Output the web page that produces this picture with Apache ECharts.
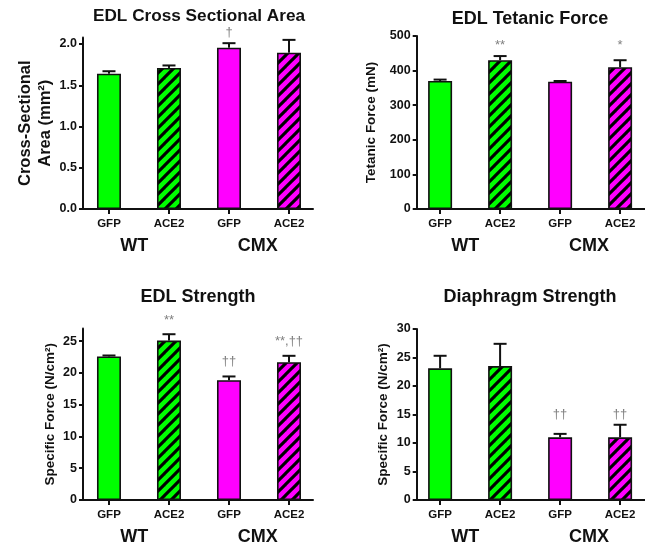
<!DOCTYPE html>
<html>
<head>
<meta charset="utf-8">
<script src="https://cdn.jsdelivr.net/npm/echarts@6/dist/echarts.min.js"></script>
<style>html,body{margin:0;padding:0;background:#fff}#c{width:645px;height:546px}</style>
</head>
<body>
<div id="c"></div>
<script>
// ---- data ----
const categories = ['GFP', 'ACE2', 'GFP', 'ACE2'];
const groups = ['WT', 'CMX'];
const titles = ['EDL Cross Sectional Area', 'EDL Tetanic Force', 'EDL Strength', 'Diaphragm Strength'];
const yNames = ['Cross-Sectional\nArea (mm\u00b2)', 'Tetanic Force (mN)', 'Specific Force (N/cm\u00b2)', 'Specific Force (N/cm\u00b2)'];

const csaMean = [1.64, 1.71, 1.955, 1.895];
const csaErr = [0.03, 0.03, 0.055, 0.155];
const csaAnn = ['', '', '\u2020', ''];
const csaAnnY = [null, null, 2.14, null];
const csaTicks = [0, 0.5, 1.0, 1.5, 2.0];

const tetMean = [370, 430, 368, 410];
const tetErr = [4, 12, 2, 20];
const tetAnn = ['', '**', '', '*'];
const tetAnnY = [null, 474, null, 474];
const tetTicks = [0, 100, 200, 300, 400, 500];

const edlMean = [22.6, 25.1, 18.85, 21.7];
const edlErr = [0.15, 1.0, 0.6, 1.0];
const edlAnn = ['', '**', '\u2020\u2020', '**,\u2020\u2020'];
const edlAnnY = [null, 28.2, 21.8, 24.9];
const edlTicks = [0, 5, 10, 15, 20, 25];

const diaMean = [23.1, 23.5, 11.0, 11.0];
const diaErr = [2.2, 3.9, 0.6, 2.2];
const diaAnn = ['', '', '\u2020\u2020', '\u2020\u2020'];
const diaAnnY = [null, null, 15.1, 15.1];
const diaTicks = [0, 5, 10, 15, 20, 25, 30];

// ---- styles ----
const GREEN = '#00ff00', MAGENTA = '#ff00ff', INK = '#111111';
const FONT = '"Liberation Sans", Arial, sans-serif';

function hatch(base) {
  const s = 11;
  const cv = document.createElement('canvas');
  cv.width = s; cv.height = s;
  const ctx = cv.getContext('2d');
  ctx.fillStyle = base; ctx.fillRect(0, 0, s, s);
  ctx.strokeStyle = '#000'; ctx.lineWidth = 3.1;
  [-s, 0, s].forEach(function (k) {
    ctx.beginPath(); ctx.moveTo(k - 2, s + 2); ctx.lineTo(k + s + 2, -2); ctx.stroke();
  });
  return { image: cv, repeat: 'repeat' };
}
const fills = [GREEN, hatch(GREEN), MAGENTA, hatch(MAGENTA)];

const panels = [
  { mean: csaMean, err: csaErr, ann: csaAnn, annY: csaAnnY, ticks: csaTicks, dec: 1,
    grid: { left: 83, top: 37.4, width: 230, height: 171.6 }, x: [-0.433, 3.4], ymax: 2.08,
    nameGap: 27, nameSize: 16.5, titleTop: 8, titleX: 199, titleSize: 17.2 },
  { mean: tetMean, err: tetErr, ann: tetAnn, annY: tetAnnY, ticks: tetTicks, dec: 0,
    grid: { left: 416.7, top: 36, width: 228, height: 173 }, x: [-0.39, 3.41], ymax: 500,
    nameGap: 37, nameSize: 13.5, titleTop: 10, titleX: 530, titleSize: 18 },
  { mean: edlMean, err: edlErr, ann: edlAnn, annY: edlAnnY, ticks: edlTicks, dec: 0,
    grid: { left: 83, top: 328.5, width: 230, height: 172.8 }, x: [-0.433, 3.4], ymax: 27,
    nameGap: 21, nameSize: 13.5, titleTop: 288, titleX: 198, titleSize: 18 },
  { mean: diaMean, err: diaErr, ann: diaAnn, annY: diaAnnY, ticks: diaTicks, dec: 0,
    grid: { left: 416.7, top: 329, width: 228, height: 172.3 }, x: [-0.39, 3.41], ymax: 30,
    nameGap: 25, nameSize: 13.5, titleTop: 288, titleX: 530, titleSize: 18 }
];

const option = { animation: false, backgroundColor: '#fff', title: [], grid: [], xAxis: [], yAxis: [], series: [] };

panels.forEach(function (p, i) {
  option.title.push({ text: titles[i], left: p.titleX, top: p.titleTop, textAlign: 'center', padding: 0,
    textStyle: { fontFamily: FONT, fontSize: p.titleSize, fontWeight: 'bold', color: INK } });
  option.grid.push(Object.assign({ containLabel: false }, p.grid));
  const idx = categories.map(function (_, k) { return k; });
  // category axis
  option.xAxis.push({ type: 'value', gridIndex: i, min: p.x[0], max: p.x[1], position: 'bottom',
    splitLine: { show: false },
    axisLine: { show: true, onZero: false, lineStyle: { color: INK, width: 2 } },
    axisTick: { show: true, length: 5, customValues: idx, lineStyle: { color: INK, width: 2 } },
    axisLabel: { customValues: idx, margin: 9, formatter: function (v) { return categories[Math.round(v)]; },
      fontFamily: FONT, fontSize: 11.5, fontWeight: 'bold', color: INK } });
  // group axis
  option.xAxis.push({ type: 'value', gridIndex: i, min: p.x[0], max: p.x[1], position: 'bottom',
    splitLine: { show: false }, axisLine: { show: false, onZero: false }, axisTick: { show: false },
    axisLabel: { customValues: [0.42, 2.48], margin: 28,
      formatter: function (v) { return v < 1.5 ? groups[0] : groups[1]; },
      fontFamily: FONT, fontSize: 18, fontWeight: 'bold', color: INK } });
  option.yAxis.push({ type: 'value', gridIndex: i, min: 0, max: p.ymax, position: 'left',
    name: yNames[i], nameLocation: 'middle', nameGap: p.nameGap,
    nameTextStyle: { fontFamily: FONT, fontSize: p.nameSize, fontWeight: 'bold', color: INK, lineHeight: p.nameSize + 4 },
    splitLine: { show: false },
    axisLine: { show: true, onZero: false, lineStyle: { color: INK, width: 2 } },
    axisTick: { show: true, length: 4, customValues: p.ticks, lineStyle: { color: INK, width: 2 } },
    axisLabel: { customValues: p.ticks, margin: 6, formatter: function (v) { return v.toFixed(p.dec); },
      fontFamily: FONT, fontSize: 12.5, fontWeight: 'bold', color: INK } });

  const xi = i * 2, yi = i;
  option.series.push({ type: 'bar', xAxisIndex: xi, yAxisIndex: yi, barWidth: 24, z: 2,
    data: p.mean.map(function (m, k) {
      return { value: [k, m], itemStyle: { color: fills[k], borderColor: INK, borderWidth: 1.6 } };
    }) });
  option.series.push({ type: 'custom', xAxisIndex: xi, yAxisIndex: yi, z: 3, clip: false,
    data: p.mean.map(function (m, k) { return [k, m, p.err[k]]; }),
    renderItem: function (params, api) {
      const x = api.value(0), y = api.value(1), e = api.value(2);
      const a = api.coord([x, y]), b = api.coord([x, y + e]);
      const st = { stroke: INK, lineWidth: 2 };
      return { type: 'group', children: [
        { type: 'line', shape: { x1: a[0], y1: a[1], x2: b[0], y2: b[1] }, style: st },
        { type: 'line', shape: { x1: b[0] - 6.5, y1: b[1], x2: b[0] + 6.5, y2: b[1] }, style: st }
      ] };
    } });
  option.series.push({ type: 'custom', xAxisIndex: xi, yAxisIndex: yi, z: 4, clip: false,
    data: p.ann.map(function (t, k) { return [k, p.annY[k] == null ? 0 : p.annY[k], t]; }),
    renderItem: function (params, api) {
      const t = p.ann[params.dataIndex];
      if (!t) return null;
      const c = api.coord([api.value(0), api.value(1)]);
      return { type: 'text', x: c[0], y: c[1], style: { text: t, align: 'center', verticalAlign: 'middle',
        fill: '#808080', font: '13px ' + FONT } };
    } });
});

const chart = echarts.init(document.getElementById('c'), null, { renderer: 'canvas' });
chart.setOption(option);
</script>
</body>
</html>
